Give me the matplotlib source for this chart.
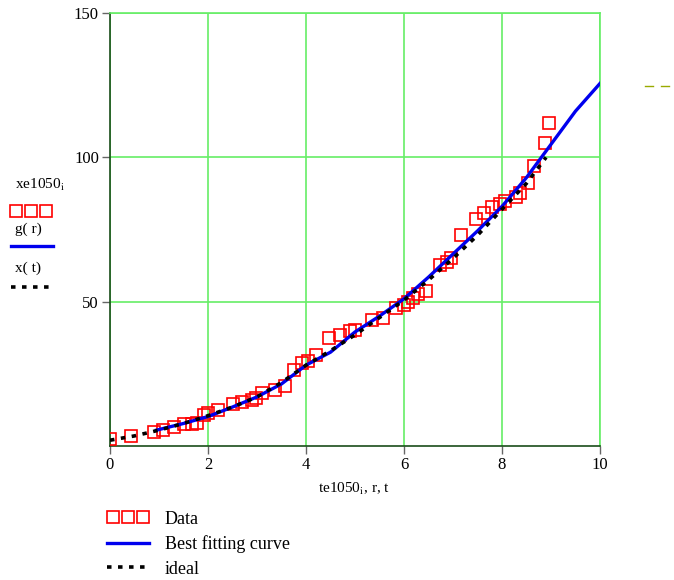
import matplotlib
matplotlib.use("Agg")
import matplotlib.pyplot as plt
from matplotlib.lines import Line2D

plt.rcParams['font.family'] = ['Liberation Serif', 'DejaVu Serif']
plt.rcParams['mathtext.fontset'] = 'stix'

# measured data
data_x = [0.0, 0.43, 0.9, 1.08, 1.3, 1.5, 1.68, 1.78, 1.92, 2.0, 2.2, 2.5, 2.7,
          2.9, 2.97, 3.1, 3.37, 3.57, 3.76, 3.92, 4.04, 4.2, 4.47, 4.7, 4.9,
          5.0, 5.35, 5.57, 5.84, 6.0, 6.08, 6.18, 6.29, 6.45, 6.73, 6.88, 6.96,
          7.16, 7.47, 7.63, 7.8, 7.96, 8.06, 8.29, 8.37, 8.53, 8.65, 8.88, 8.96]
data_y = [2.4, 3.5, 4.8, 5.4, 6.6, 7.6, 7.6, 8.0, 10.7, 11.5, 12.5, 14.6, 15.2,
          16.0, 16.6, 18.3, 19.4, 20.8, 26.5, 28.7, 29.5, 31.5, 37.3, 38.3, 40.0,
          40.3, 43.6, 44.3, 47.8, 48.8, 49.8, 51.2, 52.6, 53.8, 62.6, 63.7, 65.0,
          73.0, 78.5, 80.6, 82.7, 84.0, 84.8, 86.2, 87.5, 91.0, 97.0, 105.0, 111.8]

# best fitting curve g(r)
fit_r = [0.95, 1.5, 2.0, 2.5, 3.0, 3.5, 4.0, 4.5, 5.0, 5.5, 6.0, 6.5, 7.0,
         7.5, 8.0, 8.5, 9.0, 9.5, 10.0]
fit_g = [5.5, 7.8, 10.2, 13.5, 17.0, 21.5, 28.0, 32.5, 39.5, 45.0, 51.0, 58.5, 66.5,
         74.5, 83.0, 93.0, 104.5, 116.0, 125.6]

# ideal curve x(t)
ideal_t = [0.0, 0.5, 1.0, 1.5, 2.0, 2.5, 3.0, 3.5, 4.0, 4.5, 5.0, 5.5, 6.0,
           6.5, 7.0, 7.5, 8.0, 8.5, 8.9]
ideal_x = [2.0, 3.5, 5.5, 7.8, 10.5, 13.5, 17.0, 22.0, 28.0, 33.0, 38.5, 44.5, 50.5,
           57.5, 65.0, 73.0, 82.0, 91.0, 100.0]

xticks = [0, 2, 4, 6, 8, 10]
yticks = [50, 100, 150]

RED = '#ff0000'
BLUE = '#0000ee'
DOTS = dict(color='black', linewidth=2.6, dashes=(1.25, 1.8),
            dash_capstyle='butt')

fig = plt.figure(figsize=(6.74, 5.8), dpi=100)
ax = fig.add_axes([110 / 674, 1 - 446 / 580, 490 / 674, 433 / 580])

grid_col = '#66ee66'
ax.plot(data_x, data_y, linestyle='none', marker='s', markersize=8.5,
        markerfacecolor='none', markeredgecolor=RED, markeredgewidth=1.2,
        zorder=3)
ax.plot(fit_r, fit_g, color=BLUE, linewidth=2.4, zorder=4)
ax.plot(ideal_t, ideal_x, zorder=5, **DOTS)

ax.set_xlim(0, 10)
ax.set_ylim(0, 150)
ax.set_xticks(xticks)
ax.set_yticks(yticks)
ax.grid(True, color=grid_col, linewidth=1.2)
ax.set_axisbelow(True)
for side in ['top', 'right']:
    ax.spines[side].set_color(grid_col)
    ax.spines[side].set_linewidth(1.2)
for side in ['left', 'bottom']:
    ax.spines[side].set_color('#1a4d1a')
    ax.spines[side].set_linewidth(1.2)
ax.tick_params(direction='out', length=6, width=1, color='#666666',
               labelsize=12, pad=2)

# axis label
fig.text(318 / 674, 1 - 489 / 580, r"te1050$_{\mathrm{i}}$, r, t",
         fontsize=11, va='center', ha='left')

# left-hand trace labels
fig.text(15 / 674, 1 - 185 / 580, r"xe1050$_{\mathrm{i}}$",
         fontsize=11, va='center', ha='left')
fig.add_artist(Line2D([16 / 674, 31 / 674, 46 / 674], [1 - 211 / 580] * 3,
                      linestyle='none', marker='s', markersize=8,
                      markerfacecolor='none', markeredgecolor=RED,
                      markeredgewidth=1.2))
fig.text(15 / 674, 1 - 229 / 580, "g( r)", fontsize=11, va='center', ha='left')
fig.add_artist(Line2D([11 / 674, 53 / 674], [1 - 246 / 580] * 2,
                      color=BLUE, linewidth=2.4))
fig.text(15 / 674, 1 - 268 / 580, "x( t)", fontsize=11, va='center', ha='left')
fig.add_artist(Line2D([11 / 674, 53 / 674], [1 - 287 / 580] * 2, **DOTS))

# bottom legend
fig.add_artist(Line2D([113 / 674, 128 / 674, 143 / 674], [1 - 517 / 580] * 3,
                      linestyle='none', marker='s', markersize=8,
                      markerfacecolor='none', markeredgecolor=RED,
                      markeredgewidth=1.2))
fig.text(165 / 674, 1 - 519 / 580, "Data", fontsize=13, va='center', ha='left')
fig.add_artist(Line2D([107 / 674, 149 / 674], [1 - 543 / 580] * 2,
                      color=BLUE, linewidth=2.4))
fig.text(165 / 674, 1 - 544 / 580, "Best fitting curve", fontsize=13,
         va='center', ha='left')
fig.add_artist(Line2D([107 / 674, 149 / 674], [1 - 567 / 580] * 2, **DOTS))
fig.text(165 / 674, 1 - 569 / 580, "ideal", fontsize=13, va='center', ha='left')

# small dashes at the top right
for x0 in (645, 661):
    fig.add_artist(Line2D([x0 / 674, (x0 + 8) / 674], [1 - 86 / 580] * 2,
                          color='#99aa00', linewidth=1))

fig.savefig("out.png", dpi=100)
